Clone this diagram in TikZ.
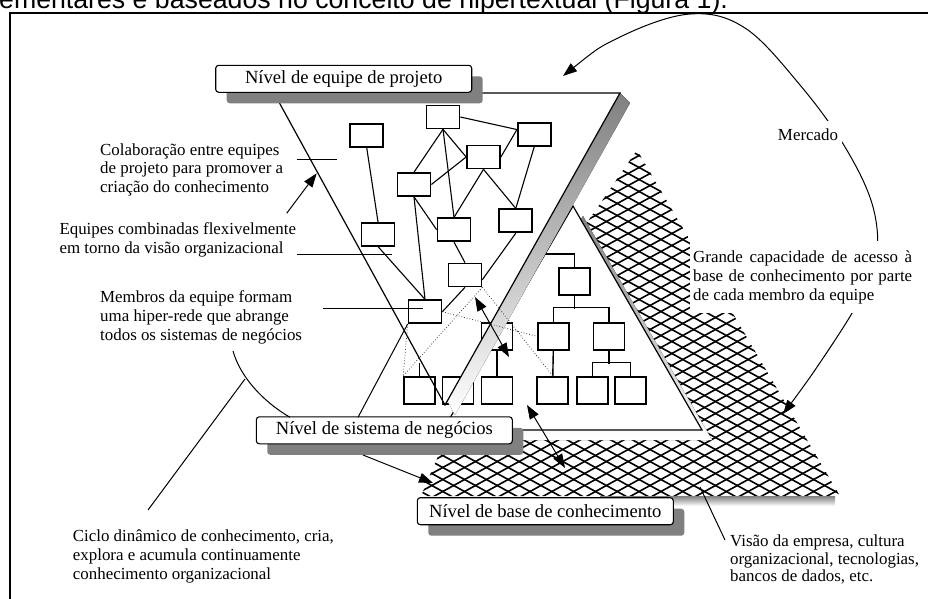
\documentclass[tikz,border=0pt]{standalone}
\usepackage{fontspec}
\setmainfont{Liberation Serif}
\newfontfamily\headfont{Liberation Sans}
\usetikzlibrary{arrows.meta,shadows}
\definecolor{shade}{RGB}{128,128,128}

\begin{document}
\begin{tikzpicture}[x=1pt, y=-1pt,
  netbox/.style={draw, line width=1.7pt, minimum width=33pt, minimum height=23pt, inner sep=0pt},
  orgbox/.style={draw, line width=1.7pt, minimum width=31pt, minimum height=27pt, inner sep=0pt},
  link/.style={line width=1.1pt},
  treelink/.style={line width=1.4pt},
  hint/.style={line width=0.8pt, dotted, black!75},
  meshline/.style={line width=1.6pt},
  edge/.style={line width=1.2pt},
  levelbox/.style={draw, line width=1.1pt, rounded corners=3pt, fill=white,
    minimum width=256pt, minimum height=27pt, inner sep=0pt,
    font=\fontsize{18.6}{20}\selectfont,
    general shadow={fill=shade, shadow xshift=11pt, shadow yshift=-11pt}},
  % multi-line callouts are placed by the baseline of their last line
  callout/.style={font=\fontsize{16.9}{18.8}\selectfont, align=left, inner sep=0pt, anchor=base west},
  pointer/.style={line width=1pt},
  tipped/.style={pointer, -{Triangle[length=14pt, width=10pt]}},
  bitipped/.style={pointer, {Triangle[length=14pt, width=10pt]}-{Triangle[length=14pt, width=10pt]}},
]
\useasboundingbox (0,0) rectangle (928,598);
\clip (0,0) rectangle (928,598);

% running text above the frame and the frame itself
\node[anchor=base west, inner sep=0pt, font=\headfont\fontsize{26.7}{30}\selectfont] (head) at (-1,8)
  {ementares e baseados no conceito de hipertextual (Figura 1).};
\draw[line width=2pt] (10,620) -- (10,12.5) -- (950,12.5);

% ---------- knowledge base: cross-hatched plane ----------
\coordinate (m1) at (637,150);
\coordinate (m2) at (840,496);
\coordinate (m3) at (421,496);
\coordinate (m4) at (445,440);
\coordinate (m5) at (575,240);
\begin{scope}
  \clip (m1) -- (m2) -- (m3) -- (m4) -- (m5) -- cycle;
  \foreach \k in {-132,-120,...,504} {
    \draw[meshline] (400,\k) -- (900,\k+275);
    \draw[meshline] (400,\k+275) -- (900,\k);
  }
\end{scope}
\fill[shade] (600,496) rectangle (835,506);

% ---------- business system level: triangle ----------
\coordinate (ta) at (573,206);
\coordinate (tl) at (443,430);
\coordinate (tr) at (702,430);
\fill[shade] ([shift={(10,10)}]ta) -- ([shift={(10,10)}]tl) -- ([shift={(10,10)}]tr) -- cycle;
\draw[edge, fill=white] (ta) -- (tl) -- (tr) -- cycle;

% hierarchy inside the business level
\node[orgbox] (h0)  at (574.3,281.7) {};
\node[orgbox] (h1)  at (553.3,336.3) {};
\node[orgbox] (h2)  at (609,336.3) {};
\node[orgbox] (hx)  at (497,336.3) {};
\node[orgbox] (hb0) at (419.5,390.3) {};
\node[orgbox] (hb1) at (458,390.3) {};
\node[orgbox] (hb2) at (497,390.3) {};
\node[orgbox] (hb3) at (552.8,390.3) {};
\node[orgbox] (hb4) at (592.2,390.3) {};
\node[orgbox] (hb5) at (630.3,390.3) {};
\coordinate (hroot) at (532,254);
\draw[treelink] (h0.north) |- (hroot);
\draw[treelink] (h0.south) -- ++(0,13.3);
\draw[treelink] (h1.north) -- ++(0,-14.4) -| (h2.north);
\draw[treelink] (h1.south) -- (hb3.north);
\draw[treelink] (h2.south) -- ++(0,13.3);
\draw[treelink] (hb4.north) -- ++(0,-13.4) -| (hb5.north);
\draw[treelink] (hx.south) -- (hb2.north);
\draw[treelink] (hb0.north) -- ++(0,-13.4);

% ---------- project team level: inverted triangle ----------
\coordinate (pl) at (274,93);
\coordinate (pr) at (620,93);
\coordinate (pt) at (445,405);
\coordinate (pb) at (447.3,400.9);
\fill[shade] (pr) -- ([shift={(10,10)}]pr) -- ([shift={(10,10)}]pt) -- (pb) -- cycle;
\draw[edge] (pl) -- (pr) -- (pt) -- cycle;

% team members
\node[netbox] (A) at (366.7,135.3) {};
\node[netbox] (B) at (443,117) {};
\node[netbox] (C) at (534.3,134.2) {};
\node[netbox] (D) at (483.5,157) {};
\node[netbox] (E) at (414,184.5) {};
\node[netbox] (F) at (378,234.2) {};
\node[netbox] (G) at (454,229.7) {};
\node[netbox] (H) at (515.8,220.8) {};
\node[netbox] (I) at (465,275) {};
\node[netbox] (J) at (425,311.7) {};

\draw[link] (A.south) -- (F.north);
\draw[link] (B.east) -- (C.165);
\draw[link] (B.south) -- (E.north);
\draw[link] (B.south) -- (G.north);
\draw[link] (B.south) -- (D.west);
\draw[link] (E.east) -- (D.west);
\draw[link] (C.165) -- (D.east);
\draw[link] (C.south) -- (H.north);
\draw[link] (D.south) -- (G.north);
\draw[link] (D.south) -- (H.north);
\draw[link] (E.south) -- (G.west);
\draw[link] (E.south) -- (J.north);
\draw[link] (F.south) -- (J.north);
\draw[link] (G.south) -- (I.north);
\draw[link] (H.south) -- (I.345);
\draw[link] (I.south) -- (J.east);

% loose ties between team members and business units
\draw[hint] (J.south west) -- (hb0.north west);
\draw[hint] (I.south east) -- (hb0.north west);
\draw[hint] (I.south east) -- (hb3.north);
\draw[hint] (J.east) -- (h1.west);

% ---------- level labels ----------
\node[levelbox] (lvteam) at (343.7,78.8) {Nível de equipe de projeto};
\node[levelbox] (lvbiz)  at (384.3,430.3) {Nível de sistema de negócios};
\node[levelbox] (lvbase) at (545.3,511.2) {Nível de base de conhecimento};

% ---------- callouts on the left ----------
\node[callout] (txcollab) at (100,192.6)
  {Colaboração entre equipes\\de projeto para promover a\\criação do conhecimento};
\node[callout] (txflex) at (59.3,253.5)
  {Equipes combinadas flexivelmente\\em torno da visão organizacional};
\node[callout] (txmemb) at (100,340)
  {Membros da equipe formam\\uma hiper-rede que abrange\\todos os sistemas de negócios};
\node[callout] (txcycle) at (72.7,579)
  {Ciclo dinâmico de conhecimento, cria,\\explora e acumula continuamente\\conhecimento organizacional};
\node[callout, font=\fontsize{16.9}{17.5}\selectfont] (txvision) at (730,581.7)
  {Visão da empresa, cultura\\organizacional, tecnologias,\\bancos de dados, etc.};

\coordinate (c1a) at (296.7,159.3);  \coordinate (c1b) at (336.7,159.3);
\coordinate (c2a) at (296.7,254);    \coordinate (c2b) at (391.7,254);
\coordinate (c3a) at (286.7,213.3);  \coordinate (c3b) at (316.7,173.3);
\coordinate (c4a) at (323.3,308.3);  \coordinate (c4b) at (423.3,308.3);
\coordinate (c5a) at (233,351);      \coordinate (c5b) at (290,417.3);
\coordinate (c6a) at (148,510);      \coordinate (c6b) at (245,379);
\coordinate (c7a) at (358,417.3);
\coordinate (c8a) at (363,455);      \coordinate (c8b) at (433,483);
\coordinate (c9a) at (527,405);      \coordinate (c9b) at (565,468);
\coordinate (c10a) at (475,297);     \coordinate (c10b) at (509,357);
\coordinate (c11a) at (725,540);     \coordinate (c11b) at (700,487);

\draw[pointer] (c1a) -- (c1b);
\draw[pointer] (c2a) -- (c2b);
\draw[tipped] (c3a) -- (c3b);
\draw[pointer] (c4a) -- (c4b);
\draw[pointer] (c5a) .. controls (240,376) and (262,401) .. (c5b);
\draw[pointer] (c6a) -- (c6b);
\draw[pointer] (c7a) -- (J.south west);
\draw[tipped] (c8a) -- (c8b);
\draw[bitipped] (c9a) -- (c9b);
\draw[bitipped] (c10a) -- (c10b);
\draw[pointer] (c11a) -- (c11b);

% ---------- market loop ----------
\coordinate (mkA) at (563,76);
\coordinate (mkB) at (783,414);
\draw[bitipped] plot[smooth, tension=0.6] coordinates
  {(mkA) (620,37) (690,14) (745,28) (800,85) (845,147) (873,207) (876,262) (855,308) (815,370) (mkB)};
\node[font=\fontsize{16.9}{18.8}\selectfont, fill=white, inner xsep=4pt, inner ysep=7pt, anchor=base] (mkt) at (808,140) {Mercado};
\node[font=\fontsize{16.9}{19}\selectfont, fill=white, text width=219pt, align=justify,
      inner xsep=3pt, inner ysep=9pt, anchor=base west] (access) at (690,262)
  {Grande capacidade de acesso à\linebreak base de conhecimento por parte\linebreak de cada membro da equipe};
\end{tikzpicture}
\end{document}
